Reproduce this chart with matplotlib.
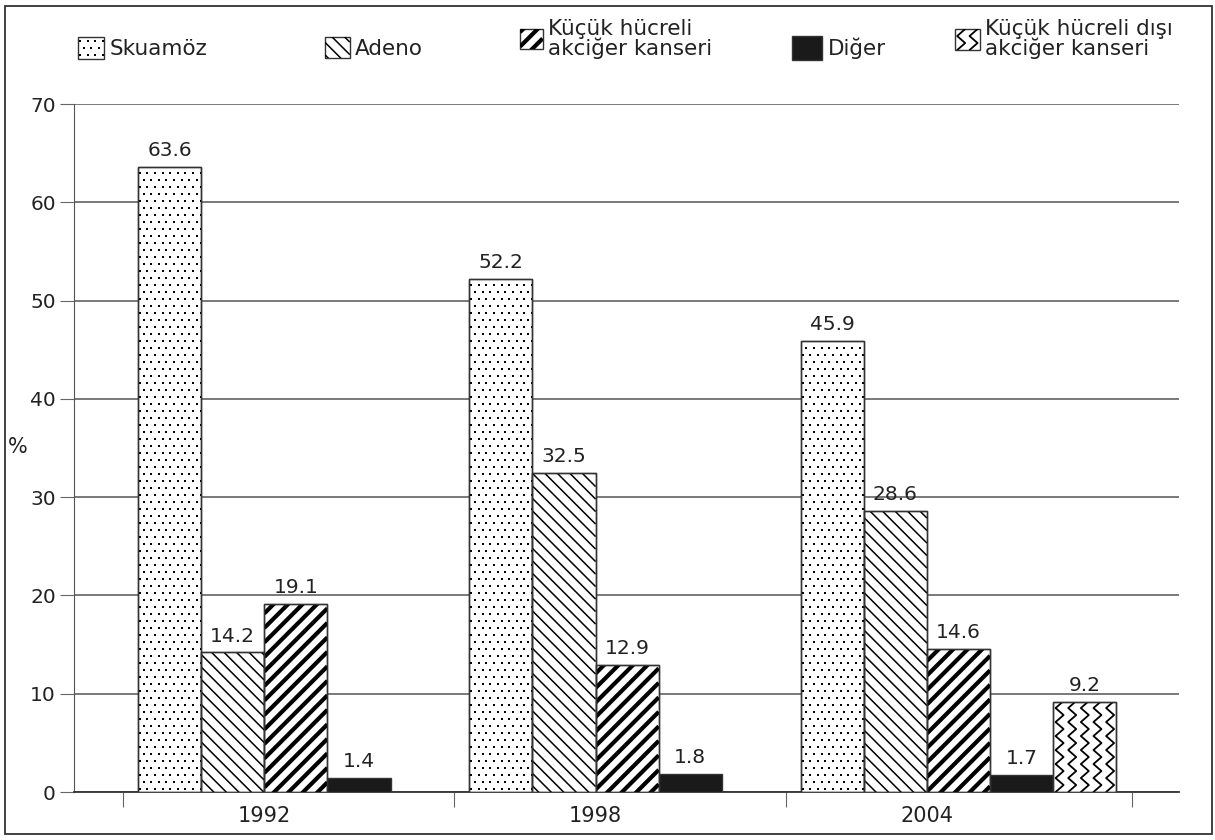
import numpy as np
import matplotlib
matplotlib.use('Agg')
import matplotlib.pyplot as plt
from matplotlib.patches import Rectangle
from matplotlib.lines import Line2D
from matplotlib.collections import LineCollection
from matplotlib.legend_handler import HandlerBase

plt.rcParams['font.family'] = ['DejaVu Sans']

years = ['1992', '1998', '2004']
labels = ['Skuamöz', 'Adeno', 'Küçük hücreli\nakciğer kanseri', 'Diğer',
          'Küçük hücreli dışı\nakciğer kanseri']
skuamoz = [63.6, 52.2, 45.9]
adeno = [14.2, 32.5, 28.6]
kucuk = [19.1, 12.9, 14.6]
diger = [1.4, 1.8, 1.7]
nsclc = [None, None, 9.2]
series = [skuamoz, adeno, kucuk, diger, nsclc]

# fill texture per series
fills = ['dots', 'back', 'fwd', 'solid', 'zigzag']
EDGE = '#333333'
BAR_W = 0.1906
LEFT_PAD = 0.045


def zigzag_lines(x0, x1, y0, y1, sx, sy, col_w, amp, step, **kw):
    ncol = max(1, int(round((x1 - x0) / sx / col_w)))
    cw = (x1 - x0) / ncol
    ys = np.arange(y0 - step * sy, y1 + step * sy, step * sy)
    segs = []
    for j in range(ncol):
        c = x0 + (j + 0.5) * cw
        xs = c + amp * sx * np.where(np.arange(len(ys)) % 2 == 0, 1, -1)
        segs.append(np.column_stack([xs, ys]))
    return LineCollection(segs, colors='black', **kw)


def stripes(x0, x1, y0, y1, sx, sy, gap, sign, **kw):
    # 45-degree lines in pixel space, `gap` pixels apart along the vertical
    u0, u1, v0, v1 = x0 / sx, x1 / sx, y0 / sy, y1 / sy
    if sign > 0:
        cmin, cmax = v0 - u1, v1 - u0
    else:
        cmin, cmax = v0 + u0, v1 + u1
    cs = np.arange(np.floor(cmin / gap) * gap, cmax + gap, gap)
    segs = [[(u0 * sx, (sign * u0 + c) * sy), (u1 * sx, (sign * u1 + c) * sy)] for c in cs]
    return LineCollection(segs, colors='black', **kw)


def dot_grid(x0, x1, y0, y1, sx, sy, dx, dy, **kw):
    xs, ys = [], []
    for r, y in enumerate(np.arange(y0 + dy * sy / 2, y1, dy * sy)):
        shift = dx * sx / 2 if r % 2 else 0
        for x in np.arange(x0 + dx * sx / 4 + shift, x1, dx * sx):
            xs.append(x)
            ys.append(y)
    return Line2D(xs, ys, ls='none', marker='s', markersize=1.7, mew=0,
                  color='black', **kw)


def texture(kind, x0, x1, y0, y1, sx, sy, **kw):
    if kind == 'dots':
        return dot_grid(x0, x1, y0, y1, sx, sy, 7.6, 7.0, **kw)
    if kind == 'back':
        return stripes(x0, x1, y0, y1, sx, sy, 12.5, -1, lw=1.1, **kw)
    if kind == 'fwd':
        return stripes(x0, x1, y0, y1, sx, sy, 14.5, 1, lw=3.0, **kw)
    return zigzag_lines(x0, x1, y0, y1, sx, sy, 12.7, 4, 7, lw=1.3, **kw)


class TextureHandler(HandlerBase):
    def __init__(self, kind):
        super().__init__()
        self.kind = kind

    def create_artists(self, legend, orig_handle, xdescent, ydescent,
                       width, height, fontsize, trans):
        x0, y0 = -xdescent, -ydescent
        fc = '#1a1a1a' if self.kind == 'solid' else 'white'
        rect = Rectangle((x0, y0), width, height, facecolor=fc,
                         edgecolor=EDGE, lw=1.0, transform=trans)
        arts = [rect]
        if self.kind != 'solid':
            # handle box is in points; 0.72 pt per pixel at 100 dpi
            tex = texture(self.kind, x0, x0 + width, y0, y0 + height, 0.72, 0.72,
                          transform=trans)
            tex.set_clip_path(rect)
            arts.append(tex)
        return arts


fig = plt.figure(figsize=(12.15, 8.4), dpi=100)
ax = fig.add_axes([0.0609, 0.0571, 0.9095, 0.819])

# data units per pixel, for the hand-drawn textures
px_x = 1 / 331.5
px_y = 70 / 688.0

handles = []
for k, (vals, kind) in enumerate(zip(series, fills)):
    fc = '#1a1a1a' if kind == 'solid' else 'white'
    for i, v in enumerate(vals):
        if v is None:
            continue
        left = i - 0.5 + LEFT_PAD + k * BAR_W
        bar = ax.bar(left, v, BAR_W, align='edge', facecolor=fc, edgecolor=EDGE,
                     lw=1.0, zorder=3)[0]
        if kind != 'solid':
            tex = texture(kind, left, left + BAR_W, 0, v, px_x, px_y, zorder=4)
            ax.add_artist(tex)
            tex.set_clip_path(bar)
            # redraw the outline over the texture
            ax.bar(left, v, BAR_W, align='edge', fill=False, edgecolor=EDGE,
                   lw=1.0, zorder=4.5)
        ax.text(left + BAR_W / 2, v + 0.7, f'{v:.1f}', ha='center', va='bottom',
                fontsize=14.5, color='#222222', zorder=5)
    handles.append(Rectangle((0, 0), 1, 1, facecolor=fc, edgecolor=EDGE))

ax.set_xlim(-0.648, 2.687)
ax.set_ylim(0, 70)
ax.set_yticks(np.arange(0, 71, 10))
ax.yaxis.grid(True, color='#6e6e6e', lw=1.3, zorder=0)
ax.set_axisbelow(True)
for s in ['top', 'right']:
    ax.spines[s].set_visible(False)
ax.spines['left'].set_color('#555555')
ax.spines['bottom'].set_color('#333333')
ax.spines['bottom'].set_linewidth(1.3)

ax.set_xticks([-0.5, 0.5, 1.5, 2.545])
ax.set_xticklabels([])
ax.tick_params(axis='x', which='major', length=11, color='#666666')
# year labels sit under the first four bars of each group
ax.set_xticks([i - 0.5 + LEFT_PAD + 2 * BAR_W for i in range(len(years))], minor=True)
ax.set_xticklabels(years, minor=True)
ax.tick_params(axis='x', which='minor', length=0, labelsize=15, pad=10,
               labelcolor='#222222')
ax.tick_params(axis='y', length=10, color='#666666', labelsize=14.5, pad=3,
               labelcolor='#222222')
ax.set_ylabel('%', rotation=0, fontsize=15, color='#222222', ha='center', va='center')
ax.yaxis.set_label_coords(-0.0507, 0.501)

# legend entries laid out along the top
leg_x = [0.0642, 0.2675, 0.428, 0.652, 0.786]
leg_y = [0.943, 0.943, 0.954, 0.943, 0.954]
hsize = [(1.2, 1.2), (1.15, 1.15), (1.05, 1.05), (1.4, 1.3), (1.15, 1.15)]
for k, (h, lab, x, y, (hl, hh)) in enumerate(zip(handles, labels, leg_x, leg_y, hsize)):
    lg = fig.legend([h], [lab], loc='center left', bbox_to_anchor=(x, y),
                    frameon=False, fontsize=15.5, handlelength=hl, handleheight=hh,
                    handletextpad=0.25, borderaxespad=0, borderpad=0, labelspacing=0,
                    handler_map={h: TextureHandler(fills[k])})
    for t in lg.get_texts():
        t.set_linespacing(0.9)
        t.set_color('#222222')

fig.patches.append(Rectangle((5 / 1215, 6 / 840), 1207 / 1215, 828 / 840,
                             transform=fig.transFigure, fill=False,
                             edgecolor='#333333', lw=1.3))

fig.savefig('out.png', dpi=100)
